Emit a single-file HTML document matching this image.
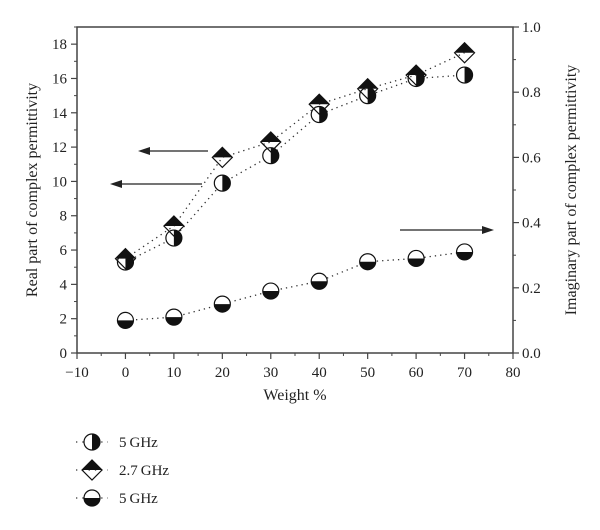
<!DOCTYPE html>
<html><head><meta charset="utf-8"><style>
body{margin:0;background:#fff;}
svg{display:block;font-family:"Liberation Serif",serif;}
</style></head><body>
<svg id="chart" width="600" height="530" viewBox="0 0 600 530" xmlns="http://www.w3.org/2000/svg"></svg>
<script>
const categories=[0,10,20,30,40,50,60,70];
const realFiveGHz=[5.3,6.7,9.9,11.5,13.9,15.0,16.0,16.2];
const realTwoSevenGHz=[5.5,7.4,11.4,12.3,14.5,15.4,16.2,17.5];
const imagFiveGHz=[0.10,0.11,0.15,0.19,0.22,0.28,0.29,0.31];
const xTicks=[-10,0,10,20,30,40,50,60,70,80];
const yLeftTicks=[0,2,4,6,8,10,12,14,16,18];
const yRightTicks=[0.0,0.2,0.4,0.6,0.8,1.0];

const L=77,R=513,T=27,B=353;
const x=v=>L+(v+10)/90*(R-L);
const yl=v=>B-v/19*(B-T);
const yr=v=>B-v*(B-T);
const svg=document.getElementById('chart');
const NS='http://www.w3.org/2000/svg';
function mk(tag,attrs,parent){const e=document.createElementNS(NS,tag);for(const k in attrs)e.setAttribute(k,attrs[k]);(parent||svg).appendChild(e);return e;}

// frame
const frame=mk('rect',{x:L,y:T,width:R-L,height:B-T,fill:'none',stroke:'#444','stroke-width':1.5});



// x ticks
xTicks.forEach((v,i)=>{
  mk('line',{x1:x(v),x2:x(v),y1:B,y2:B+6,stroke:'#444','stroke-width':1.2});
  if(i<xTicks.length-1) mk('line',{x1:x(v+5),x2:x(v+5),y1:B,y2:B+3,stroke:'#444','stroke-width':1});
  const t=mk('text',{x:x(v),y:B+24,'text-anchor':'middle','font-size':15,fill:'#222'});
  t.textContent=v<0?'\u2212'+Math.abs(v):v;
  
  
});
yLeftTicks.forEach((v,i)=>{
  mk('line',{x1:L-6,x2:L,y1:yl(v),y2:yl(v),stroke:'#444','stroke-width':1.2});
  mk('line',{x1:L-3,x2:L,y1:yl(v+1),y2:yl(v+1),stroke:'#444','stroke-width':1});
  const t=mk('text',{x:L-10,y:yl(v)+5,'text-anchor':'end','font-size':15,fill:'#222'});
  t.textContent=v;
  
  
});
yRightTicks.forEach((v,i)=>{
  mk('line',{x1:R,x2:R+6,y1:yr(v),y2:yr(v),stroke:'#444','stroke-width':1.2});
  if(i<yRightTicks.length-1) mk('line',{x1:R,x2:R+3,y1:yr(v+0.1),y2:yr(v+0.1),stroke:'#444','stroke-width':1});
  const t=mk('text',{x:R+9,y:yr(v)+5,'text-anchor':'start','font-size':15,fill:'#222'});
  t.textContent=v.toFixed(1);
  
  
});
let t=mk('text',{x:(L+R)/2,y:B+47,'text-anchor':'middle','font-size':16,fill:'#222'});
t.textContent='Weight %';


t=mk('text',{x:0,y:0,'text-anchor':'middle','font-size':16,fill:'#222',transform:`translate(37,${(T+B)/2}) rotate(-90)`});
t.textContent='Real part of complex permittivity';


t=mk('text',{x:0,y:0,'text-anchor':'middle','font-size':16,fill:'#222',transform:`translate(576,${(T+B)/2}) rotate(-90)`});
t.textContent='Imaginary part of complex permittivity';



// markers
function halfCircle(cx,cy,g){
  mk('circle',{cx,cy,r:8,fill:'#fff',stroke:'#111','stroke-width':1.2},g);
  mk('path',{d:`M${cx},${cy-8} A8,8 0 0 1 ${cx},${cy+8} Z`,fill:'#111'},g);
}
function diamond(cx,cy,g){
  mk('path',{d:`M${cx-10},${cy} L${cx},${cy-10} L${cx+10},${cy} Z`,fill:'#111'},g);
  mk('path',{d:`M${cx-10},${cy} L${cx},${cy-10} L${cx+10},${cy} L${cx},${cy+10} Z`,fill:'none',stroke:'#111','stroke-width':1.2},g);
}
function lowerCircle(cx,cy,g){
  mk('circle',{cx,cy,r:8,fill:'#fff',stroke:'#111','stroke-width':1.2},g);
  mk('path',{d:`M${cx-8},${cy} A8,8 0 0 0 ${cx+8},${cy} Z`,fill:'#111'},g);
}
function series(vals,yf,marker,name){
  const g=mk('g',{});
  
  
  const pts=vals.map((v,i)=>x(categories[i])+','+yf(v)).join(' ');
  mk('polyline',{points:pts,fill:'none',stroke:'#333','stroke-width':1.3,'stroke-dasharray':'1.3,4'},g);
  vals.forEach((v,i)=>{
    const m=mk('g',{},g);
    
    
    marker(x(categories[i]),yf(v),m);
  });
}
series(realFiveGHz,yl,halfCircle,'series-real-5ghz');
series(realTwoSevenGHz,yl,diamond,'series-real-2-7ghz');
series(imagFiveGHz,yr,lowerCircle,'series-imag-5ghz');

// arrows
function arrow(x1,x2,y,name){
  const g=mk('g',{});
  
  
  const dir=x2>x1?1:-1;
  mk('line',{x1,x2:x2-dir*8,y1:y,y2:y,stroke:'#222','stroke-width':1.3},g);
  mk('path',{d:`M${x2},${y} L${x2-dir*12},${y-4} L${x2-dir*12},${y+4} Z`,fill:'#222'},g);
}
arrow(208,138,151,'arrow-left-1');
arrow(202,110,184,'arrow-left-2');
arrow(400,494,230,'arrow-right');

// legend
const legendLabels=['5\u2009GHz','2.7\u2009GHz','5\u2009GHz'];
const legendMarkers=[halfCircle,diamond,lowerCircle];
[442,470,498].forEach((ly,i)=>{
  const g=mk('g',{});
  
  
  mk('line',{x1:76,x2:108,y1:ly,y2:ly,stroke:'#333','stroke-width':1.3,'stroke-dasharray':'1.3,5'},g);
  legendMarkers[i](92,ly,g);
  const tx=mk('text',{x:119,y:ly+5,'font-size':15,fill:'#222'},g);
  tx.textContent=legendLabels[i];
});
</script>
</body></html>
